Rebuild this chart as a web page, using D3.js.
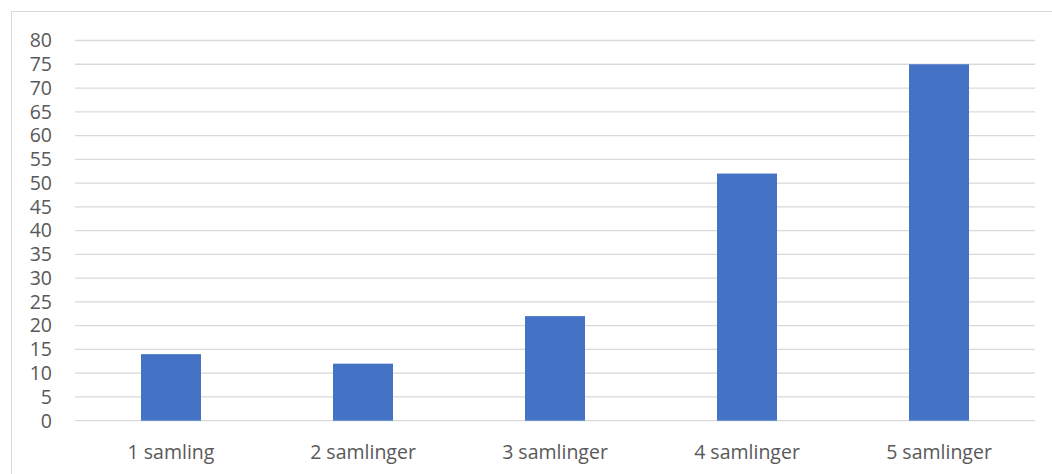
<!DOCTYPE html>
<html>
<head>
<meta charset="utf-8">
<script src="https://cdn.jsdelivr.net/npm/d3@7"></script>
<style>
  body { margin: 0; background: #fff; }
  text { font-family: "Open Sans", sans-serif; fill: #595959; }
</style>
</head>
<body>
<svg width="1052" height="474"></svg>
<script>
var categories = ['1 samling', '2 samlinger', '3 samlinger', '4 samlinger', '5 samlinger']
var values = [14, 12, 22, 52, 75]
var yTicks = d3.range(0, 81, 5)

var svg = d3.select('svg')

// outer chart border
svg.append('rect')
    .attr('x', 11.5)
    .attr('y', 11.5)
    .attr('width', 1060)
    .attr('height', 480)
    .attr('fill', 'none')
    .attr('stroke', '#d9d9d9')

var plotLeft = 75, plotRight = 1035, plotTop = 40.5, plotBottom = 420.7

var x = d3.scaleBand()
    .domain(categories)
    .range([plotLeft, plotRight])
    .paddingInner(0.6875)
    .paddingOuter(0.34375)

var y = d3.scaleLinear()
    .domain([0, 80])
    .range([plotBottom, plotTop])

// gridlines
svg.append('g')
    .selectAll('line')
    .data(yTicks)
    .enter()
    .append('line')
    .attr('x1', plotLeft)
    .attr('x2', plotRight)
    .attr('y1', function(d){ return y(d) })
    .attr('y2', function(d){ return y(d) })
    .style('stroke', '#d9d9d9')
    .style('stroke-width', 1.3)

// y labels
svg.append('g')
    .selectAll('text')
    .data(yTicks)
    .enter()
    .append('text')
    .attr('x', 52)
    .attr('y', function(d){ return y(d) })
    .attr('dy', '0.35em')
    .attr('text-anchor', 'end')
    .style('font-size', '19.5px')
    .text(function(d){ return d })

// bars
svg.append('g')
    .selectAll('rect')
    .data(values)
    .enter()
    .append('rect')
    .attr('x', function(d, i){ return x(categories[i]) })
    .attr('width', x.bandwidth())
    .attr('y', function(d){ return y(d) })
    .attr('height', function(d){ return y(0) - y(d) })
    .attr('fill', '#4472c4')

// category labels
svg.append('g')
    .selectAll('text')
    .data(categories)
    .enter()
    .append('text')
    .attr('x', function(d){ return x(d) + x.bandwidth() / 2 })
    .attr('y', 459)
    .attr('text-anchor', 'middle')
    .style('font-size', '19.5px')
    .text(function(d){ return d })
</script>
</body>
</html>
